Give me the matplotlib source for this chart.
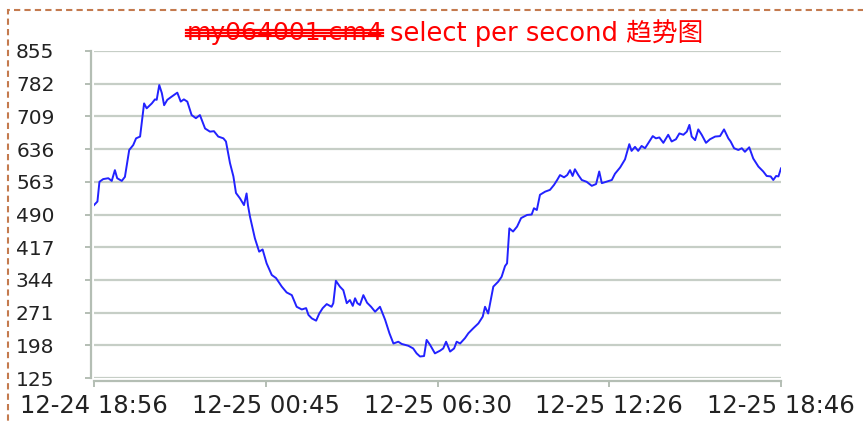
import matplotlib
matplotlib.use('Agg')
import matplotlib.pyplot as plt
from matplotlib.patches import Rectangle
from matplotlib.lines import Line2D

# hours since 12-24 18:56 and selects per second
hours = [0.00, 0.12, 0.19, 0.32, 0.50, 0.62, 0.73, 0.81, 0.97, 1.08,
         1.23, 1.37, 1.47, 1.61, 1.75, 1.84, 2.02, 2.13, 2.19, 2.28,
         2.37, 2.45, 2.56, 2.71, 2.91, 3.03, 3.14, 3.26, 3.41, 3.56,
         3.70, 3.88, 4.05, 4.19, 4.34, 4.52, 4.61, 4.75, 4.87, 4.96,
         5.10, 5.24, 5.33, 5.38, 5.45, 5.62, 5.77, 5.89, 6.03, 6.21,
         6.36, 6.56, 6.73, 6.91, 7.08, 7.26, 7.41, 7.49, 7.61, 7.76,
         7.87, 7.99, 8.13, 8.30, 8.36, 8.45, 8.59, 8.71, 8.83, 8.94,
         9.04, 9.12, 9.20, 9.29, 9.41, 9.54, 9.68, 9.82, 9.99, 10.17,
         10.32, 10.46, 10.63, 10.75, 10.98, 11.15, 11.27, 11.39, 11.53, 11.62,
         11.74, 11.91, 12.09, 12.20, 12.30, 12.44, 12.58, 12.67, 12.79, 12.96,
         13.08, 13.25, 13.43, 13.58, 13.66, 13.77, 13.95, 14.12, 14.24, 14.36,
         14.43, 14.51, 14.64, 14.78, 14.92, 15.13, 15.29, 15.37, 15.47, 15.58,
         15.76, 15.93, 16.07, 16.18, 16.28, 16.42, 16.53, 16.63, 16.72, 16.80,
         16.92, 17.04, 17.21, 17.39, 17.54, 17.65, 17.74, 17.89, 18.09, 18.20,
         18.38, 18.55, 18.70, 18.78, 18.90, 19.01, 19.13, 19.25, 19.40, 19.52,
         19.63, 19.75, 19.89, 20.06, 20.18, 20.33, 20.45, 20.59, 20.71, 20.80,
         20.88, 21.00, 21.11, 21.23, 21.38, 21.52, 21.70, 21.87, 22.01, 22.16,
         22.24, 22.36, 22.51, 22.63, 22.74, 22.89, 23.03, 23.21, 23.38, 23.50,
         23.64, 23.73, 23.83, 23.91, 24.00]
qps = [511, 519, 563, 569, 571, 565, 589, 571, 565, 574,
       634, 645, 660, 664, 738, 727, 738, 747, 746, 779,
       761, 734, 746, 753, 762, 742, 747, 742, 712, 705,
       712, 682, 675, 676, 664, 660, 653, 605, 575, 538,
       526, 511, 537, 510, 485, 437, 407, 412, 381, 355,
       348, 329, 316, 310, 284, 278, 281, 266, 258, 253,
       269, 281, 290, 284, 292, 342, 329, 321, 292, 299,
       286, 303, 292, 288, 310, 293, 284, 273, 284, 255,
       225, 202, 206, 201, 197, 191, 180, 173, 174, 210,
       199, 180, 186, 191, 206, 184, 191, 206, 202, 214,
       225, 236, 247, 262, 284, 269, 329, 340, 351, 375,
       381, 459, 452, 463, 482, 489, 490, 504, 500, 534,
       541, 545, 556, 567, 578, 573, 578, 589, 576, 591,
       578, 567, 563, 554, 558, 586, 560, 563, 567, 581,
       595, 613, 647, 632, 641, 632, 643, 638, 653, 665,
       660, 662, 650, 668, 653, 658, 671, 668, 675, 690,
       664, 656, 680, 668, 650, 658, 664, 665, 680, 660,
       653, 638, 634, 638, 630, 640, 615, 597, 586, 576,
       575, 567, 576, 575, 593]

y_ticks = [125, 198, 271, 344, 417, 490, 563, 636, 709, 782, 855]
x_ticks = [0, 6, 12, 18, 24]
x_labels = ['12-24 18:56', '12-25 00:45', '12-25 06:30', '12-25 12:26', '12-25 18:46']
title_hidden = 'my064001.cm4'
title_rest = 'select per second 趋势图'

W, H = 863, 421
fig = plt.figure(figsize=(W / 100, H / 100), dpi=100)
ax = fig.add_axes([94 / W, 1 - 378 / H, (781 - 94) / W, (378 - 51) / H])

grid_c = '#c6cec6'
ax.plot(hours, qps, color='#2222ff', lw=1.4)
ax.set_xlim(0, 24)
ax.set_ylim(125, 855)
ax.set_yticks(y_ticks)
ax.set_xticks(x_ticks)
ax.set_xticklabels(x_labels)
ax.yaxis.grid(True, color=grid_c, lw=1.6)
ax.set_axisbelow(True)
for s in ['top', 'right']:
    ax.spines[s].set_visible(False)
for s in ['left', 'bottom']:
    ax.spines[s].set_color('#b4beb4')
    ax.spines[s].set_linewidth(1.6)
    ax.spines[s].set_position(('outward', 2.5))
ax.tick_params(axis='y', colors='#b4beb4', length=4, width=1.4, pad=22,
               labelcolor='#222222', labelsize=14.5)
ax.tick_params(axis='x', colors='#b4beb4', length=4, width=1.4, pad=5,
               labelcolor='#222222', labelsize=17.5)

# title: first part is scribbled out in red
fam = ['DejaVu Sans', 'Noto Sans CJK SC']
ty = 1 - 33 / H
t1 = fig.text(383 / W, ty, title_hidden, ha='right', va='center', color='red',
              fontsize=18, family=fam)
fig.text(390 / W, ty, title_rest, ha='left', va='center', color='red',
         fontsize=18.5, family=fam)
fig.canvas.draw()
bb = t1.get_window_extent()
for dy in [-3, 0, 3]:
    yy = (bb.y0 + bb.y1) / 2 + dy
    fig.add_artist(Line2D([bb.x0 / W, bb.x1 / W], [yy / H, yy / H],
                          transform=fig.transFigure, color='red', lw=1.6))

# dashed border of the panel
fig.add_artist(Rectangle((8 / W, -0.2), 1.2, 1.2 - 10 / H, transform=fig.transFigure,
                         fill=False, edgecolor='#c47a4e', lw=1.5,
                         linestyle=(0, (3, 2))))

fig.savefig('out.png', dpi=100)
